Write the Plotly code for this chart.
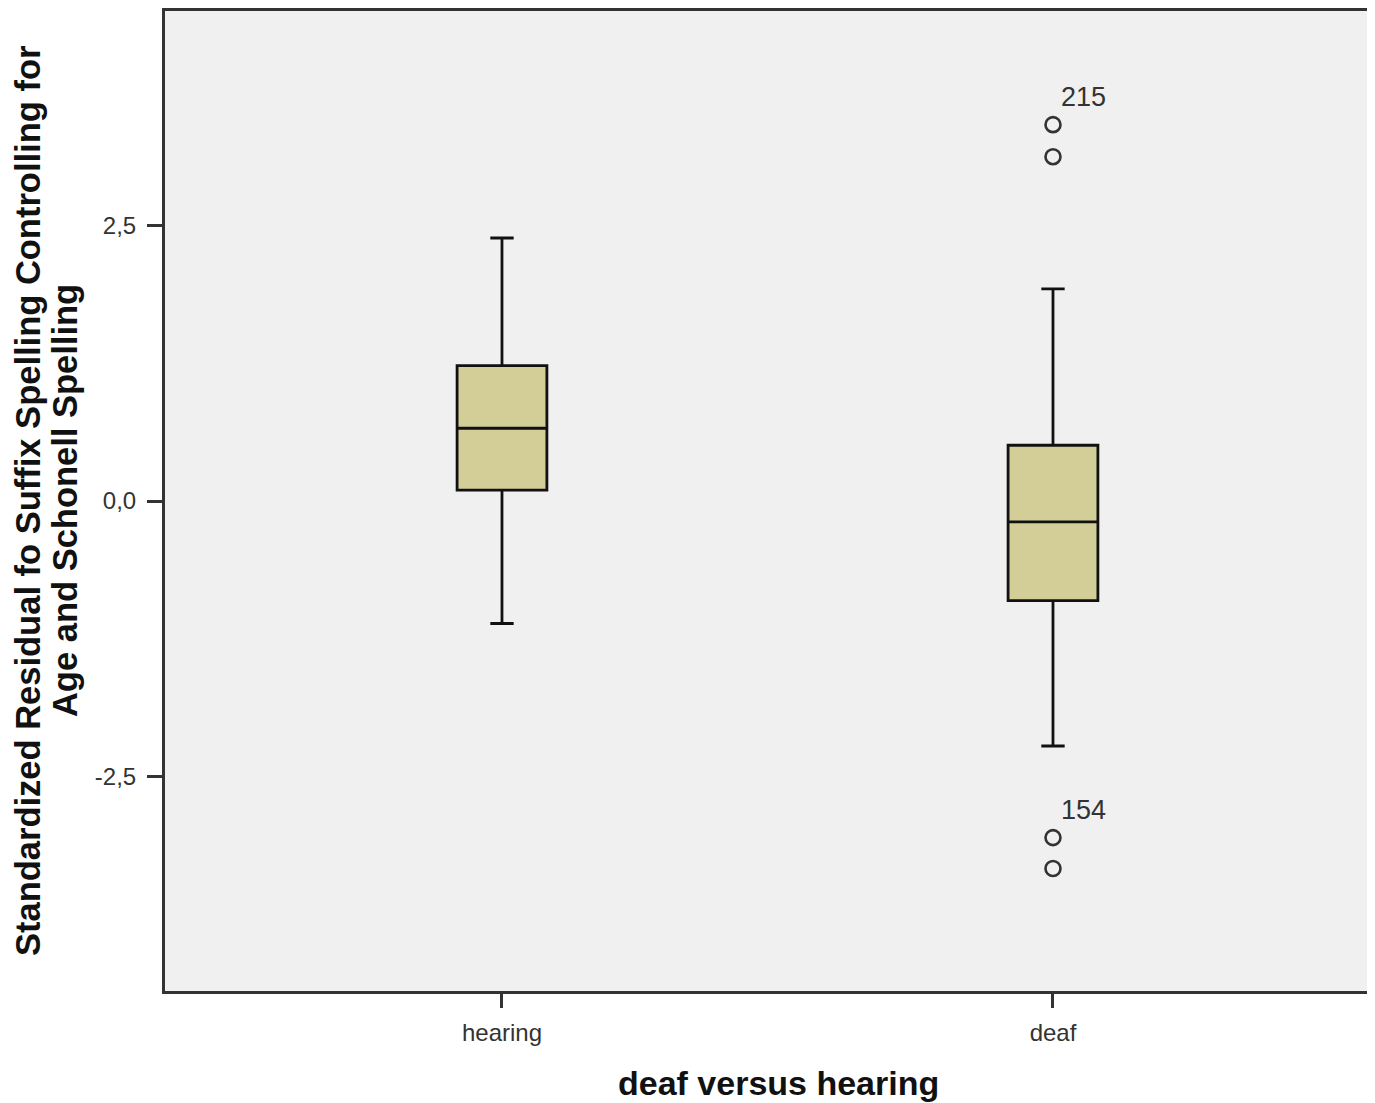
import plotly.graph_objects as go

# ---- data ----
groups = ["hearing", "deaf"]
q1 = [0.099, -0.903]
median = [0.659, -0.190]
q3 = [1.227, 0.505]
lowerfence = [-1.110, -2.220]
upperfence = [2.383, 1.922]

outlier_group = ["deaf", "deaf", "deaf", "deaf"]
outlier_values = [3.41, 3.12, -3.05, -3.33]

label_group = ["deaf", "deaf"]
label_values = [3.41, -3.05]
label_texts = ["215", "154"]

y_tickvals = [-2.5, 0.0, 2.5]
y_ticktext = ["-2,5", "0,0", "2,5"]

x_title = "deaf versus hearing"
y_title_lines = ["Standardized Residual fo Suffix Spelling Controlling for",
                 "Age and Schonell Spelling"]

FONT = "Liberation Sans, Arial, sans-serif"

# ---- figure ----
fig = go.Figure()

fig.add_trace(go.Box(
    x=groups, q1=q1, median=median, q3=q3,
    lowerfence=lowerfence, upperfence=upperfence,
    boxpoints=False,
    width=0.163,
    whiskerwidth=0.26,
    fillcolor="#D3CE97",
    line=dict(color="#111111", width=2.8),
    showlegend=False,
    hoverinfo="skip",
))

fig.add_trace(go.Scatter(
    x=outlier_group, y=outlier_values,
    mode="markers",
    marker=dict(symbol="circle-open", size=15, color="#333333",
                line=dict(width=2.6, color="#333333")),
    showlegend=False,
    hoverinfo="skip",
))

for g, v, t in zip(label_group, label_values, label_texts):
    fig.add_annotation(
        x=g, y=v, text=t, showarrow=False,
        xanchor="left", yanchor="middle",
        xshift=6, yshift=28,
        font=dict(family=FONT, size=27, color="#333333"),
    )

# axis titles as annotations for precise placement
fig.add_annotation(
    x=0.5074, y=-0.0935, xref="paper", yref="paper",
    text=f"<b>{x_title}</b>", showarrow=False,
    xanchor="center", yanchor="middle",
    font=dict(family=FONT, size=34, color="#111111"),
)
for xp, line in zip([-0.1132, -0.0826], y_title_lines):
    fig.add_annotation(
        x=xp, y=0.5, xref="paper", yref="paper",
        text=f"<b>{line}</b>", showarrow=False, textangle=-90,
        xanchor="center", yanchor="middle",
        font=dict(family=FONT, size=34.5, color="#111111"),
    )

fig.update_layout(
    width=1367, height=1095,
    margin=dict(l=157, r=0, t=0, b=112),
    paper_bgcolor="white",
    plot_bgcolor="#F0F0F0",
    font=dict(family=FONT, color="#333333"),
    showlegend=False,
)

fig.update_xaxes(
    type="category",
    categoryorder="array", categoryarray=groups,
    range=[-0.6116, 1.5844],
    showgrid=False, zeroline=False,
    showline=True, linecolor="#333333", linewidth=3, mirror=True,
    ticks="outside", ticklen=14, tickwidth=2.5, tickcolor="#333333",
    ticklabelstandoff=4,
    tickfont=dict(size=24, color="#333333"),
)

fig.update_yaxes(
    range=[-4.44, 4.44],
    tickvals=y_tickvals, ticktext=y_ticktext,
    showgrid=False, zeroline=False,
    showline=True, linecolor="#333333", linewidth=3,
    ticks="outside", ticklen=15, tickwidth=2.5, tickcolor="#333333",
    ticklabelstandoff=6,
    tickfont=dict(size=24, color="#333333"),
)

fig.write_html("out.html")
